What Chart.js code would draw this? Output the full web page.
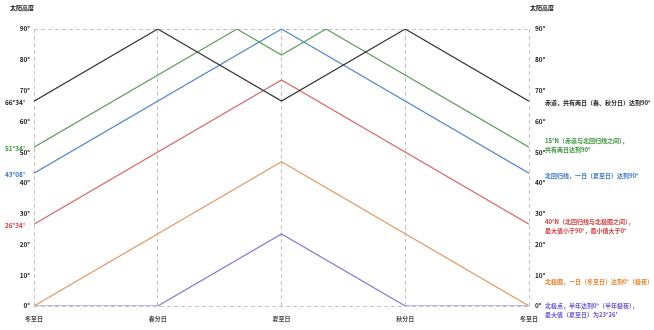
<!DOCTYPE html>
<html>
<head>
<meta charset="utf-8">
<script src="https://cdn.jsdelivr.net/npm/chart.js@4/dist/chart.umd.min.js"></script>
<style>
  html, body { margin: 0; padding: 0; background: #fff; }
  #wrap { width: 654px; height: 330px; }
</style>
</head>
<body>
<div id="wrap"><canvas id="sun-chart" width="654" height="330"></canvas></div>
<script>
// x: 0 冬至日, 1 春分日, 2 夏至日, 3 秋分日, 4 冬至日
const xLabels = ["冬至日", "春分日", "夏至日", "秋分日", "冬至日"];
const yTicks = [0, 10, 20, 30, 40, 50, 60, 70, 80, 90];

const equatorX = [0, 1, 2, 3, 4];
const equatorY = [66.57, 90, 66.57, 90, 66.57];
const lat15X = [0, 1.64, 2, 2.36, 4];
const lat15Y = [51.57, 90, 81.57, 90, 51.57];
const tropicX = [0, 2, 4];
const tropicY = [43.13, 90, 43.13];
const lat40X = [0, 2, 4];
const lat40Y = [26.57, 73.43, 26.57];
const arcticX = [0, 2, 4];
const arcticY = [0, 46.87, 0];
const poleX = [0, 1, 2, 3, 4];
const poleY = [0, 0, 23.43, 0, 0];

const startLabels = ["66°34'", "51°34'", "43°08'", "26°34'"];
const startValues = [66.57, 51.57, 43.13, 26.57];

const notes = [
  ["赤道，共有两日（春、秋分日）达到90°"],
  ["15°N（赤道与北回归线之间），", "共有两日达到90°"],
  ["北回归线，一日（夏至日）达到90°"],
  ["40°N（北回归线与北极圈之间），", "最大值小于90°，最小值大于0°"],
  ["北极圈，一日（冬至日）达到0°（极夜）"],
  ["北极点，半年达到0°（半年极夜），", "最大值（夏至日）为23°26'"]
];
const axisTitle = "太阳高度";

const lineColors = ["#333333", "#5c9c57", "#4d87c8", "#d76a6a", "#e49b66", "#8479d2"];
const textColors = ["#222222", "#3a963a", "#3a78c6", "#d23c3c", "#e6852e", "#6a5bd0"];
const FONT = "'Noto Sans CJK SC', 'Noto Sans', sans-serif";

function pts(xs, ys) {
  return xs.map((x, i) => ({ x: x, y: ys[i] }));
}

const series = [
  pts(equatorX, equatorY),
  pts(lat15X, lat15Y),
  pts(tropicX, tropicY),
  pts(lat40X, lat40Y),
  pts(arcticX, arcticY),
  pts(poleX, poleY)
];

// note anchor: pixel offset from the series' end value
const noteAnchor = [
  { v: 66.57, dy: 2 },
  { v: 51.57, dy: -2 },
  { v: 43.13, dy: 2 },
  { v: 26.57, dy: 2 },
  { v: 0, dy: -24 },
  { v: 0, dy: 4 }
];

const textPlugin = {
  id: "texts",
  afterDraw(chart) {
    const ctx = chart.ctx;
    const y = chart.scales.y;
    const area = chart.chartArea;
    ctx.save();
    ctx.font = "bold 6px " + FONT;
    ctx.fillStyle = "#111";
    ctx.textBaseline = "middle";
    ctx.textAlign = "left";
    ctx.fillText(axisTitle, 10, 8);
    ctx.fillText(axisTitle, 530, 8);

    ctx.font = "bold 6.5px " + FONT;
    ctx.textAlign = "right";
    startLabels.forEach((t, i) => {
      ctx.fillStyle = textColors[i];
      ctx.fillText(t, 25, y.getPixelForValue(startValues[i]) + 1);
    });

    ctx.font = "bold 6px " + FONT;
    ctx.textAlign = "left";
    notes.forEach((lines, i) => {
      ctx.fillStyle = textColors[i];
      const base = y.getPixelForValue(noteAnchor[i].v) + noteAnchor[i].dy;
      const top = base - (lines.length - 1) * 4.5;
      lines.forEach((t, j) => {
        ctx.fillText(t, area.right + 16, top + j * 9);
      });
    });
    ctx.restore();
  }
};

new Chart(document.getElementById("sun-chart"), {
  type: "line",
  data: {
    datasets: series.map((d, i) => ({
      data: d,
      borderColor: lineColors[i],
      borderWidth: 1.2,
      pointRadius: 0,
      tension: 0,
      fill: false
    }))
  },
  options: {
    responsive: false,
    animation: false,
    layout: { padding: { top: 29, left: 0, right: 0, bottom: 0 } },
    plugins: { legend: { display: false }, tooltip: { enabled: false } },
    scales: {
      x: {
        type: "linear",
        min: 0,
        max: 4,
        afterBuildTicks: s => { s.ticks = xLabels.map((_, i) => ({ value: i })); },
        afterFit: s => { s.height = 24; },
        ticks: {
          padding: 9,
          maxRotation: 0,
          color: "#444",
          font: { family: FONT, size: 6, weight: "bold" },
          callback: v => xLabels[v]
        },
        grid: { color: "#c4c4c4", lineWidth: 1, drawTicks: false },
        border: { display: false, dash: [4, 3] }
      },
      y: {
        position: "left",
        min: 0,
        max: 90,
        afterBuildTicks: s => { s.ticks = yTicks.map(v => ({ value: v })); },
        afterFit: s => { s.width = 34; },
        ticks: {
          padding: 4,
          color: "#222",
          font: { family: FONT, size: 6.5, weight: "bold" },
          callback: v => v + "°"
        },
        grid: {
          drawTicks: false,
          color: c => (c.tick && (c.tick.value === 0 || c.tick.value === 90)) ? "#c4c4c4" : "rgba(0,0,0,0)"
        },
        border: { display: false, dash: [4, 3] }
      },
      y2: {
        position: "right",
        min: 0,
        max: 90,
        afterBuildTicks: s => { s.ticks = yTicks.map(v => ({ value: v })); },
        afterFit: s => { s.width = 125; },
        ticks: {
          padding: 6,
          color: "#222",
          font: { family: FONT, size: 6.5, weight: "bold" },
          callback: v => v + "°"
        },
        grid: { display: false, drawTicks: false },
        border: { display: false }
      }
    }
  },
  plugins: [textPlugin]
});
</script>
</body>
</html>
